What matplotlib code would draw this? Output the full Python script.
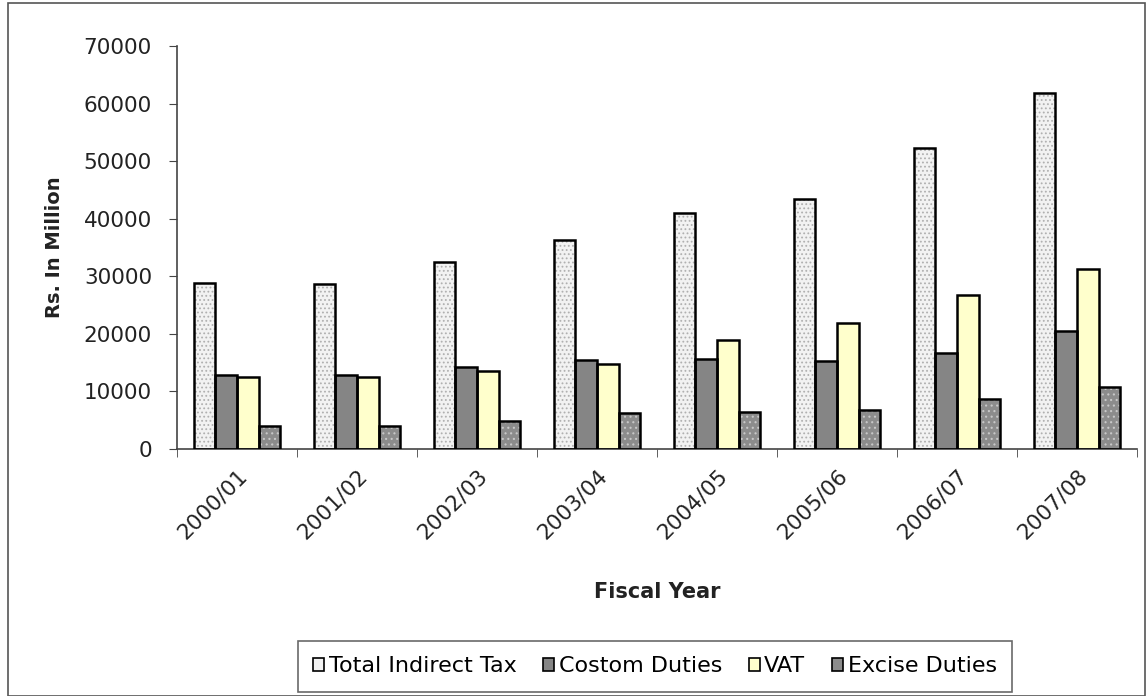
import matplotlib.pyplot as plt
import numpy as np
from matplotlib.patches import Rectangle

plt.rcParams['font.family'] = ['DejaVu Sans']
plt.rcParams['hatch.linewidth'] = 0.8

# Dados de arrecadação (Rs. em milhões) por ano fiscal
anos = ['2000/01', '2001/02', '2002/03', '2003/04',
        '2004/05', '2005/06', '2006/07', '2007/08']
total_indireto = [28800, 28700, 32500, 36300, 41000, 43500, 52200, 61900]
alfandega = [12800, 12800, 14200, 15400, 15700, 15300, 16700, 20500]
iva = [12500, 12500, 13600, 14700, 18900, 21800, 26700, 31200]
consumo = [4000, 4000, 4900, 6300, 6400, 6700, 8700, 10700]

series = ['Total Indirect Tax', 'Costom Duties', 'VAT', 'Excise Duties']
valores = [total_indireto, alfandega, iva, consumo]
cores = ['#f2f2f2', '#858585', '#ffffcc', '#8c8c8c']
cores_hatch = ['#b0b0b0', '#858585', '#ffffcc', '#c8c8c8']
hatches = ['....', None, None, '...']

fig = plt.figure(figsize=(11.47, 6.96), dpi=100)
ax = fig.add_axes([0.1543, 0.3549, 0.8370, 0.5790])

x = np.arange(len(anos))
largura = 0.18
for i, (nome, vals) in enumerate(zip(series, valores)):
    pos = x + (i - 1.5) * largura
    # preenchimento com textura, depois o contorno preto por cima
    ax.bar(pos, vals, largura, color=cores[i], edgecolor=cores_hatch[i],
           hatch=hatches[i], linewidth=0, zorder=2)
    ax.bar(pos, vals, largura, fill=False, edgecolor='black',
           linewidth=1.8, zorder=3)

ax.set_xlim(-0.5, len(anos) - 0.5)
ax.set_ylim(0, 70000)
ax.set_yticks(np.arange(0, 70001, 10000))
ax.set_xticks(x)
ax.set_xticklabels(anos, rotation=45, ha='right', rotation_mode='anchor')
ax.set_xticks(np.arange(-0.5, len(anos)), minor=True)
ax.tick_params(axis='x', which='major', length=0, pad=12, labelsize=15.5,
               labelcolor='#222222')
ax.tick_params(axis='x', which='minor', length=6, direction='out',
               color='#444444')
ax.tick_params(axis='y', length=6, direction='out', color='#444444',
               labelsize=15.5, labelcolor='#222222', pad=12)

for lado in ['top', 'right']:
    ax.spines[lado].set_visible(False)
for lado in ['left', 'bottom']:
    ax.spines[lado].set_color('#444444')
    ax.spines[lado].set_linewidth(1.2)

ax.set_ylabel('Rs. In Million', fontsize=14, fontweight='bold',
              color='#222222', labelpad=14)
fig.text(0.573, 0.150, 'Fiscal Year', fontsize=15, fontweight='bold',
         color='#222222', ha='center', va='center')

# Legenda com quadradinhos
handles = [Rectangle((0, 0), 1, 1, facecolor=cores[i], edgecolor='black',
                     linewidth=1.2) for i in range(4)]
leg = fig.legend(handles, series, loc='center', ncol=4,
                 bbox_to_anchor=(0.571, 0.043), fontsize=16,
                 frameon=True, fancybox=False, edgecolor='#444444',
                 handlelength=0.5, handleheight=0.5, handletextpad=0.2,
                 columnspacing=1.2, borderpad=0.7, borderaxespad=0)
leg.get_frame().set_linewidth(1.2)

# Moldura em volta da figura
fig.patches.append(Rectangle((0.007, 0.0), 0.991, 0.995, transform=fig.transFigure,
                             fill=False, edgecolor='#555555', linewidth=1.2))

fig.savefig('out.png', dpi=100)
